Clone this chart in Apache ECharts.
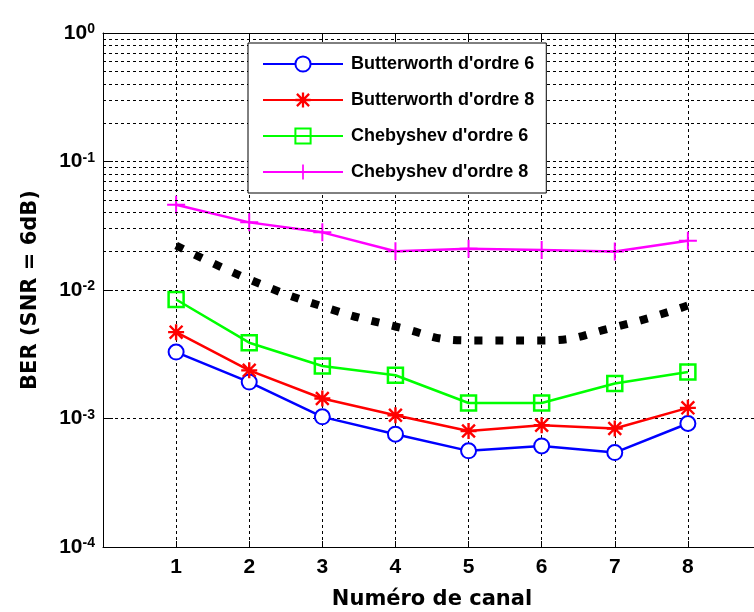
<!DOCTYPE html>
<html>
<head>
<meta charset="utf-8">
<script src="https://cdn.jsdelivr.net/npm/echarts@6/dist/echarts.min.js"></script>
<style>
html,body{margin:0;padding:0;background:#fff;}
#chart{width:754px;height:612px;}
</style>
</head>
<body>
<div id="chart"></div>
<script>
// ---- data ----
var channels = [1, 2, 3, 4, 5, 6, 7, 8];
var butter6 = [0.00329, 0.00192, 0.00103, 0.000755, 0.00056, 0.000612, 0.000543, 0.000914];
var butter8 = [0.0047, 0.00237, 0.00143, 0.00106, 0.0008, 0.000887, 0.000835, 0.00121];
var cheby6 = [0.00844, 0.00389, 0.00256, 0.00217, 0.00132, 0.00132, 0.00187, 0.0023];
var cheby8 = [0.0461, 0.0336, 0.0281, 0.0200, 0.0209, 0.0205, 0.0199, 0.0242];
var bound = [0.0222, 0.0121, 0.00745, 0.0052, 0.00405, 0.00405, 0.00514, 0.00758];
var seriesNames = ["Butterworth d'ordre 6", "Butterworth d'ordre 8", "Chebyshev d'ordre 6", "Chebyshev d'ordre 8"];
var decades = [0.0001, 0.001, 0.01, 0.1];
var minorMult = [2, 3, 4, 5, 6, 7, 8, 9];
var xTicks = ['1', '2', '3', '4', '5', '6', '7', '8'];

function pairs(arr) { return channels.map(function (c, i) { return [c, arr[i]]; }); }

var minorLines = [];
decades.forEach(function (d) { minorMult.forEach(function (m) { minorLines.push({ yAxis: d * m }); }); });

var starPath = 'path://M8.5,0L11.5,0L11.5,20L8.5,20Z M0,8.5L20,8.5L20,11.5L0,11.5Z M3.06,0.94L19.06,16.94L16.94,19.06L0.94,3.06Z M16.94,0.94L19.06,3.06L3.06,19.06L0.94,16.94Z';
var plusPath = 'path://M8,0L10,0L10,8L18,8L18,10L10,10L10,18L8,18L8,10L0,10L0,8L8,8Z';

var FONT = '"Liberation Sans", Arial, sans-serif';
var TFONT = '"DejaVu Sans", sans-serif';
var dashGrid = { color: '#000', width: 1, type: [3, 3] };

var chart = echarts.init(document.getElementById('chart'), null, { renderer: 'canvas' });
chart.setOption({
  animation: false,
  backgroundColor: '#fff',
  grid: { left: 103, top: 33, width: 658, height: 514, containLabel: false, outerBoundsMode: 'none' },
  legend: {
    data: seriesNames,
    orient: 'vertical',
    left: 248, top: 43, z: 10,
    padding: [12, 12, 12, 14],
    itemWidth: 80, itemHeight: 19, itemGap: 18,
    backgroundColor: '#fff', borderColor: '#000', borderWidth: 1,
    textStyle: { fontFamily: FONT, fontWeight: 'bold', fontSize: 18, color: '#000', padding: [0, 0, 0, 3] },
    selectedMode: false
  },
  xAxis: [{
    type: 'value', min: 0, max: 9, interval: 1,
    position: 'bottom',
    name: 'Numéro de canal', nameLocation: 'middle', nameGap: 42,
    nameTextStyle: { fontFamily: TFONT, fontWeight: 'bold', fontSize: 21, color: '#000' },
    axisLine: { show: true, onZero: false, lineStyle: { color: '#000', width: 1 } },
    axisTick: { show: true, inside: true, length: 6, lineStyle: { color: '#000' } },
    axisLabel: {
      margin: 10, fontFamily: FONT, fontWeight: 'bold', fontSize: 21, color: '#000',
      formatter: function (v) { return (v >= 1 && v <= 8) ? xTicks[v - 1] : ''; }
    },
    splitLine: { show: true, lineStyle: dashGrid }
  }, {
    type: 'value', min: 0, max: 9, interval: 1, position: 'top',
    axisLine: { show: true, onZero: false, lineStyle: { color: '#000', width: 1 } },
    axisTick: { show: true, inside: true, length: 6, lineStyle: { color: '#000' } },
    axisLabel: { show: false }, splitLine: { show: false }
  }],
  yAxis: [{
    type: 'log', logBase: 10, min: 0.0001, max: 1, interval: 1,
    name: 'BER (SNR = 6dB)', nameLocation: 'middle', nameGap: 62,
    nameTextStyle: { fontFamily: TFONT, fontWeight: 'bold', fontSize: 21, color: '#000' },
    axisLine: { show: true, onZero: false, lineStyle: { color: '#000', width: 1 } },
    axisTick: { show: true, inside: true, length: 10, lineStyle: { color: '#000' } },
    axisLabel: {
      margin: 8,
      formatter: function (v) { return '{b|10}{s|' + Math.round(Math.log10(v)) + '}'; },
      rich: {
        b: { fontFamily: FONT, fontWeight: 'bold', fontSize: 21, color: '#000', lineHeight: 21 },
        s: { fontFamily: FONT, fontWeight: 'bold', fontSize: 14, color: '#000', lineHeight: 14, verticalAlign: 'top', padding: [0, 0, 16, 0] }
      }
    },
    splitLine: { show: true, lineStyle: dashGrid }
  }],
  series: [
    {
      name: 'grid-minor', type: 'line', data: [], z: 1, silent: true,
      markLine: { silent: true, symbol: ['none', 'none'], label: { show: false }, animation: false,
        lineStyle: dashGrid, emphasis: { disabled: true }, data: minorLines }
    },
    {
      name: 'bound', type: 'line', data: pairs(bound), smooth: 0.5, showSymbol: false, symbol: 'none', z: 3,
      lineStyle: { color: '#000', width: 8, type: [8, 13], cap: 'butt' }
    },
    {
      name: seriesNames[0], type: 'line', data: pairs(butter6), z: 4,
      symbol: 'emptyCircle', symbolSize: 15,
      lineStyle: { color: '#0000ff', width: 2.5 },
      itemStyle: { color: '#0000ff', borderColor: '#0000ff', borderWidth: 2.5 }
    },
    {
      name: seriesNames[1], type: 'line', data: pairs(butter8), z: 4,
      symbol: starPath, symbolSize: 16,
      lineStyle: { color: '#ff0000', width: 2.5 },
      itemStyle: { color: '#ff0000' }
    },
    {
      name: seriesNames[2], type: 'line', data: pairs(cheby6), z: 4,
      symbol: 'rect', symbolSize: 15,
      lineStyle: { color: '#00ff00', width: 2.5 },
      itemStyle: { color: 'rgba(0,0,0,0)', borderColor: '#00ff00', borderWidth: 2.5 }
    },
    {
      name: seriesNames[3], type: 'line', data: pairs(cheby8), z: 4,
      symbol: plusPath, symbolSize: 18,
      lineStyle: { color: '#ff00ff', width: 2.5 },
      itemStyle: { color: '#ff00ff' }
    }
  ]
});
</script>
</body>
</html>
